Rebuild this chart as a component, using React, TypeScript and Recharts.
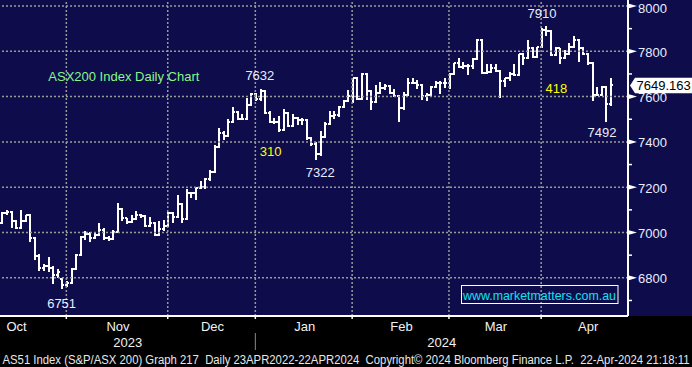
import React from 'react';
import { ComposedChart, Bar, XAxis, YAxis, ReferenceLine, ReferenceDot } from 'recharts';

const W = 692;
const H = 367;
const NAVY = '#0e0c4a';
const FONT = '"Liberation Sans", Arial, sans-serif';
const LABEL = '#e8eeff';

// ASX200 daily OHLC, 12 Oct 2023 .. 23 Apr 2024
const opens = [
  7041, 7085, 7090, 7051, 7021, 7051, 7077, 6977, 6895, 6842,
  6850, 6845, 6812, 6795, 6768, 6775, 6840, 6901, 6980, 6995,
  6975, 6990, 7010, 6975, 6970, 7003, 7103, 7062, 7048, 7058,
  7077, 7073, 7028, 7040, 6989, 7014, 7028, 7084, 7070, 7126,
  7058, 7176, 7173, 7195, 7199, 7237, 7268, 7379, 7441, 7426,
  7489, 7533, 7500, 7500, 7563, 7611, 7588, 7626, 7526, 7489,
  7489, 7452, 7526, 7470, 7504, 7497, 7497, 7416, 7391, 7347,
  7420, 7479, 7514, 7519, 7553, 7582, 7603, 7681, 7588, 7700,
  7625, 7578, 7617, 7636, 7647, 7614, 7603, 7548, 7607, 7660,
  7661, 7650, 7604, 7607, 7644, 7659, 7662, 7659, 7698, 7747,
  7732, 7737, 7737, 7765, 7850, 7703, 7710, 7725, 7713, 7669,
  7681, 7698, 7695, 7787, 7769, 7813, 7776, 7818, 7894, 7890,
  7784, 7813, 7772, 7787, 7820, 7850, 7813, 7787, 7750, 7607,
  7607, 7644, 7566,
];
const highs = [
  7088, 7099, 7092, 7051, 7099, 7077, 7079, 6977, 6901, 6857,
  6890, 6848, 6838, 6797, 6782, 6842, 6903, 6982, 7006, 6999,
  6999, 7038, 7018, 6984, 7008, 7126, 7105, 7064, 7073, 7092,
  7080, 7075, 7065, 7043, 7050, 7055, 7087, 7087, 7165, 7128,
  7190, 7178, 7195, 7224, 7237, 7275, 7385, 7460, 7445, 7497,
  7553, 7535, 7523, 7592, 7614, 7614, 7632, 7629, 7534, 7504,
  7511, 7541, 7528, 7519, 7506, 7504, 7499, 7418, 7397, 7448,
  7485, 7533, 7536, 7556, 7585, 7629, 7681, 7683, 7703, 7702,
  7627, 7647, 7664, 7654, 7649, 7632, 7605, 7617, 7682, 7679,
  7670, 7652, 7614, 7644, 7666, 7666, 7681, 7703, 7747, 7769,
  7751, 7740, 7769, 7853, 7852, 7740, 7743, 7743, 7715, 7681,
  7707, 7740, 7787, 7789, 7846, 7815, 7818, 7901, 7910, 7892,
  7816, 7813, 7805, 7835, 7867, 7852, 7815, 7789, 7752, 7639,
  7646, 7646, 7678,
];
const lows = [
  7038, 7080, 7021, 7019, 7019, 7049, 6959, 6882, 6834, 6834,
  6827, 6775, 6800, 6751, 6760, 6773, 6838, 6899, 6970, 6960,
  6973, 6988, 6967, 6965, 6967, 7001, 7055, 7040, 7046, 7056,
  7068, 7026, 7025, 6989, 6987, 7011, 7025, 7043, 7068, 7043,
  7056, 7153, 7146, 7193, 7195, 7230, 7265, 7377, 7411, 7424,
  7487, 7497, 7497, 7498, 7561, 7582, 7582, 7524, 7485, 7482,
  7445, 7450, 7467, 7468, 7479, 7475, 7411, 7386, 7322, 7340,
  7418, 7477, 7504, 7514, 7551, 7578, 7573, 7588, 7586, 7588,
  7544, 7576, 7614, 7632, 7612, 7601, 7489, 7544, 7605, 7658,
  7636, 7588, 7585, 7605, 7639, 7614, 7639, 7637, 7696, 7728,
  7722, 7698, 7725, 7763, 7701, 7701, 7707, 7710, 7595, 7643,
  7673, 7692, 7692, 7743, 7767, 7774, 7774, 7816, 7869, 7780,
  7782, 7747, 7770, 7785, 7818, 7757, 7784, 7740, 7585, 7604,
  7604, 7492, 7560,
];
const closes = [
  7085, 7090, 7051, 7021, 7051, 7077, 6977, 6895, 6842, 6850,
  6845, 6812, 6827, 6768, 6775, 6840, 6901, 6980, 6995, 6975,
  6990, 7010, 6975, 6970, 7003, 7103, 7062, 7048, 7058, 7077,
  7073, 7028, 7040, 6989, 7014, 7028, 7084, 7070, 7126, 7058,
  7176, 7173, 7195, 7199, 7237, 7268, 7379, 7441, 7426, 7489,
  7533, 7500, 7500, 7563, 7611, 7588, 7626, 7526, 7489, 7489,
  7452, 7526, 7470, 7504, 7497, 7497, 7416, 7391, 7347, 7420,
  7479, 7514, 7519, 7553, 7582, 7603, 7681, 7588, 7700, 7625,
  7578, 7617, 7636, 7647, 7614, 7603, 7548, 7607, 7660, 7661,
  7650, 7604, 7607, 7644, 7659, 7662, 7659, 7698, 7747, 7732,
  7737, 7737, 7765, 7850, 7703, 7710, 7725, 7713, 7669, 7681,
  7698, 7695, 7787, 7769, 7813, 7776, 7818, 7894, 7890, 7784,
  7813, 7772, 7787, 7820, 7850, 7813, 7787, 7750, 7607, 7607,
  7644, 7566, 7649.163,
];

const monthNames = ['Oct', 'Nov', 'Dec', 'Jan', 'Feb', 'Mar', 'Apr'];
const monthStarts = [-8, 14, 36, 55, 76, 97, 117];
const nextMonthStart = 137;
const yearNames = ['2023', '2024'];
const firstMonthOfSecondYear = 3;
const priceTicks = [6800, 7000, 7200, 7400, 7600, 7800, 8000];
const minorTicks = [6700, 6900, 7100, 7300, 7500, 7700, 7900];

// swing points annotated on the chart: [bar index, 'high'|'low', dx, dy]
const swingPoints: [number, 'high' | 'low', number, number][] = [
  [13, 'low', -1, 19.4],
  [56, 'high', -1, -9.4],
  [68, 'low', 4, 17],
  [118, 'high', -4.7, -8.1],
  [131, 'low', -4.6, 16.2],
];

const X_DOMAIN: [number, number] = [-0.586, 135.64];
const Y_DOMAIN: [number, number] = [6631.4, 8026.5];

const data = closes.map((c, i) => ({
  i,
  open: opens[i],
  high: highs[i],
  low: lows[i],
  close: c,
  hl: [lows[i], highs[i]],
}));

const lastPrice = closes[closes.length - 1];

const boundaries = monthStarts.slice(1).map((s) => s - 0.2);
const monthCenters = monthStarts.map(
  (s, k) => (s + (k + 1 < monthStarts.length ? monthStarts[k + 1] : nextMonthStart)) / 2
);
const yearBoundary = boundaries[firstMonthOfSecondYear - 1];
const yearCenters = [(X_DOMAIN[0] + yearBoundary) / 2, (yearBoundary + X_DOMAIN[1]) / 2];
const xTicks = [...boundaries, ...monthCenters, ...yearCenters];

const moveNotes: { text: string; x: number; y: number }[] = [
  { text: String(highs[56] - lows[68]), x: 58.1, y: 7336 },
  { text: String(highs[118] - lows[131]), x: 120.1, y: 7614.6 },
];

const footer =
  'AS51 Index (S&P/ASX 200) Graph 217  Daily 23APR2022-22APR2024  Copyright\u00A9 2024 Bloomberg Finance L.P.  22-Apr-2024 21:18:11';

const OhlcShape = (props: any) => {
  const { x, y, width, height, payload } = props;
  if (!payload || x == null) return <g />;
  const { open, high, low, close } = payload;
  const top = Math.min(y, y + height);
  const bottom = Math.max(y, y + height);
  const span = high - low;
  const toY = (v: number) => (span === 0 ? top : top + ((high - v) / span) * (bottom - top));
  const cx = x + width / 2;
  const half = width / 2;
  return (
    <g stroke="#ffffff" strokeWidth={2} shapeRendering="crispEdges">
      <line x1={cx} x2={cx} y1={top - 0.5} y2={bottom + 0.5} />
      <line x1={cx - half} x2={cx} y1={toY(open)} y2={toY(open)} />
      <line x1={cx} x2={cx + half} y1={toY(close)} y2={toY(close)} />
    </g>
  );
};

const XTick = (props: any) => {
  const { x, y, payload } = props;
  const v = payload.value;
  if (boundaries.includes(v)) {
    return (
      <g>
        <line x1={x} x2={x} y1={y} y2={y + 3} stroke="#ffffff" strokeWidth={1.5} />
        {v === yearBoundary && (
          <line x1={x} x2={x} y1={y + 17} y2={y + 34} stroke="#8a8a8a" strokeWidth={1} />
        )}
      </g>
    );
  }
  const mi = monthCenters.indexOf(v);
  if (mi >= 0) {
    return (
      <text x={x} y={y + 14.7} textAnchor="middle" fill="#f2f2f2" fontSize={13} fontFamily={FONT}>
        {monthNames[mi]}
      </text>
    );
  }
  const yi = yearCenters.indexOf(v);
  if (yi >= 0) {
    return (
      <text x={x} y={y + 30.5} textAnchor="middle" fill="#f2f2f2" fontSize={13} fontFamily={FONT}>
        {yearNames[yi]}
      </text>
    );
  }
  return <g />;
};

const YTick = (props: any) => {
  const { x, y, payload } = props;
  const v = payload.value;
  if (v === lastPrice) {
    return (
      <g>
        <path
          d={`M${x + 2},${y} L${x + 7},${y - 7.7} L${x + 64},${y - 7.7} L${x + 64},${y + 7.7} L${x + 7},${y + 7.7} Z`}
          fill="#ffffff"
        />
        <text x={x + 8.5} y={y + 4.7} fill="#000000" fontSize={13} fontFamily={FONT}>
          {lastPrice.toFixed(3)}
        </text>
      </g>
    );
  }
  if (minorTicks.includes(v)) {
    return <line x1={x} x2={x + 4} y1={y} y2={y} stroke="#ffffff" strokeWidth={1.5} />;
  }
  return (
    <g>
      <path d={`M${x},${y - 2.6} L${x + 9},${y} L${x},${y + 2.6} Z`} fill="#ffffff" />
      <text x={x + 10} y={Math.max(y + 5.4, 13.3)} fill={LABEL} fontSize={13} fontFamily={FONT}>
        {v}
      </text>
    </g>
  );
};

export default function App() {
  return (
    <div
      style={{
        position: 'absolute',
        left: 0,
        top: 0,
        width: W,
        height: H,
        background: `linear-gradient(to bottom, ${NAVY} 0px, ${NAVY} 316px, #000000 316px, #000000 100%)`,
        fontFamily: FONT,
      }}
    >
      <ComposedChart width={W} height={H} data={data} margin={{ top: 0, right: 0, bottom: 0, left: 0 }}>
        <XAxis
          dataKey="i"
          type="number"
          domain={X_DOMAIN}
          allowDataOverflow
          ticks={xTicks}
          interval={0}
          tick={XTick}
          tickLine={false}
          tickSize={0}
          tickMargin={0}
          axisLine={{ stroke: '#ffffff', strokeWidth: 2 }}
          height={51}
        />
        <YAxis
          orientation="right"
          type="number"
          domain={Y_DOMAIN}
          allowDataOverflow
          ticks={[...minorTicks, ...priceTicks, lastPrice]}
          interval={0}
          tick={YTick}
          tickLine={false}
          tickSize={0}
          tickMargin={0}
          axisLine={{ stroke: '#ffffff', strokeWidth: 2 }}
          width={64}
        />
        {priceTicks.map((v) => (
          <ReferenceLine key={`h${v}`} y={v} stroke="#9a9a9a" strokeWidth={1.5} strokeDasharray="2 2" />
        ))}
        {boundaries.map((b) => (
          <ReferenceLine key={`v${b}`} x={b} stroke="#9a9a9a" strokeWidth={1.5} strokeDasharray="2 2" />
        ))}
        <Bar dataKey="hl" barSize={5} shape={OhlcShape} isAnimationActive={false} />
        {swingPoints.map(([idx, kind, dx, dy]) => {
          const val = kind === 'high' ? highs[idx] : lows[idx];
          return (
            <ReferenceDot
              key={`s${idx}`}
              x={idx}
              y={val}
              r={0}
              shape={(p: any) => (
                <text
                  x={p.cx + dx}
                  y={p.cy + dy}
                  textAnchor="middle"
                  fill={LABEL}
                  fontSize={13}
                  fontFamily={FONT}
                >
                  {String(val)}
                </text>
              )}
            />
          );
        })}
        {moveNotes.map((n) => (
          <ReferenceDot
            key={`m${n.text}`}
            x={n.x}
            y={n.y}
            r={0}
            shape={(p: any) => (
              <text x={p.cx} y={p.cy} textAnchor="middle" fill="#ffff00" fontSize={13} fontFamily={FONT}>
                {n.text}
              </text>
            )}
          />
        ))}
      </ComposedChart>
      <svg
        width={W}
        height={H}
        style={{ position: 'absolute', left: 0, top: 0, pointerEvents: 'none' }}
      >
        <text x={48.3} y={81} fill="#8af58a" fontSize={13} fontFamily={FONT}>
          ASX200 Index Daily Chart
        </text>
        <rect x={461.5} y={285.5} width={156.5} height={18} fill="none" stroke="#ffffff" strokeWidth={1} />
        <text
          x={463}
          y={299.5}
          fill="#14e0f0"
          fontSize={13}
          fontFamily={FONT}
          textLength={153}
          lengthAdjust="spacingAndGlyphs"
        >
          www.marketmatters.com.au
        </text>
        <text
          x={2.5}
          y={363.5}
          fill="#e8e8e8"
          fontSize={12.5}
          fontFamily={FONT}
          textLength={687}
          lengthAdjust="spacingAndGlyphs"
          style={{ whiteSpace: 'pre' }}
        >
          {footer}
        </text>
      </svg>
    </div>
  );
}
